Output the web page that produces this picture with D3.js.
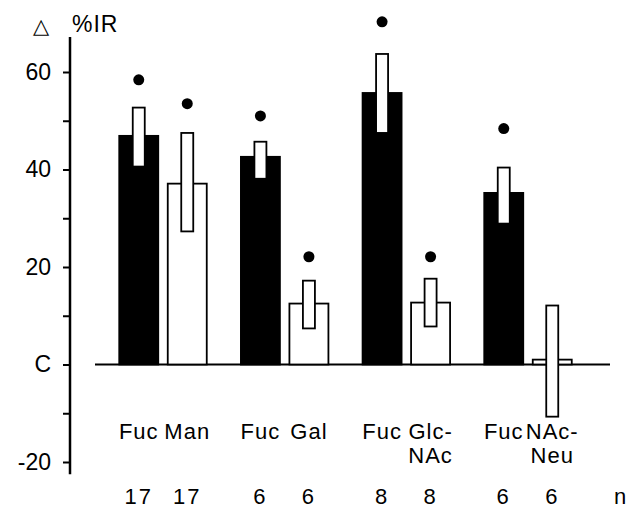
<!DOCTYPE html>
<html>
<head>
<meta charset="utf-8">
<script src="https://cdn.jsdelivr.net/npm/d3@7"></script>
<style>
    body { margin: 0; background: #fff; }
    text { font-family: "Liberation Sans", Arial, sans-serif; fill: #000; }
</style>
</head>
<body>
<svg width="634" height="508"></svg>
<script>
// data
const labels = [["Fuc"], ["Man"], ["Fuc"], ["Gal"], ["Fuc"], ["Glc-", "NAc"], ["Fuc"], ["NAc-", "Neu"]];
const groups = [0, 0, 1, 1, 2, 2, 3, 3];
const slots = [0, 1, 0, 1, 0, 1, 0, 1];
const isFuc = [true, false, true, false, true, false, true, false];
const means = [46.9, 37.1, 42.6, 12.5, 55.7, 12.7, 35.2, 1.0];
const errHigh = [52.7, 47.5, 45.7, 17.2, 63.7, 17.6, 40.4, 12.1];
const errLow = [40.6, 27.3, 38.1, 7.4, 47.5, 7.8, 28.9, -10.7];
const dots = [58.4, 53.5, 51.0, 22.1, 70.3, 22.1, 48.4, null];
const nValues = [17, 17, 6, 6, 8, 8, 6, 6];
const tickValues = [-20, -10, 0, 10, 20, 30, 40, 50, 60];
const tickLabels = { "-20": "-20", "0": "C", "20": "20", "40": "40", "60": "60" };

const data = labels.map((l, i) => ({
    label: l, group: groups[i], slot: slots[i], fuc: isFuc[i],
    mean: means[i], hi: errHigh[i], lo: errLow[i], dot: dots[i], n: nValues[i]
}));

const svg = d3.select("svg");

const y = d3.scaleLinear().domain([-20, 60]).range([462, 72]);
const xGroup = d3.scalePoint().domain([0, 1, 2, 3]).range([163, 528]);
const xInner = d3.scaleBand().domain([0, 1]).range([-43.75, 43.75]).paddingInner(0.196);
const barX = d => xGroup(d.group) + xInner(d.slot);
const barCx = d => barX(d) + xInner.bandwidth() / 2;
const errW = 12;

// y axis
const yAxis = svg.append("g")
    .attr("transform", "translate(70,0)")
    .call(d3.axisLeft(y).tickValues(tickValues).tickSize(7).tickSizeOuter(0)
        .tickFormat(v => tickLabels[v] || ""));
yAxis.select(".domain").remove();
yAxis.selectAll(".tick line").attr("stroke", "#000").attr("stroke-width", 2);
yAxis.selectAll(".tick text")
    .attr("x", -19)
    .style("font-size", "23px")
    .style("font-family", "Liberation Sans, Arial, sans-serif");
yAxis.append("line")
    .attr("x1", 0).attr("x2", 0)
    .attr("y1", y(67.2)).attr("y2", y(-22.5))
    .attr("stroke", "#000").attr("stroke-width", 2.5);

svg.append("text").attr("x", 33).attr("y", 33).style("font-size", "21px")
    .style("font-family", "DejaVu Sans").text("△");
svg.append("text").attr("x", 72).attr("y", 32).style("font-size", "23px")
    .style("letter-spacing", "1px").text("%IR");

// zero line
svg.append("line")
    .attr("x1", 95).attr("x2", 610)
    .attr("y1", y(0)).attr("y2", y(0))
    .attr("stroke", "#000").attr("stroke-width", 2);

// bars
svg.selectAll(".bar").data(data).enter().append("rect")
    .attr("class", "bar")
    .attr("x", barX)
    .attr("width", xInner.bandwidth())
    .attr("y", d => y(Math.max(0, d.mean)))
    .attr("height", d => Math.abs(y(d.mean) - y(0)))
    .attr("fill", d => d.fuc ? "#000" : "#fff")
    .attr("stroke", "#000").attr("stroke-width", 1.8);

// error bars (white boxes)
svg.selectAll(".err").data(data).enter().append("rect")
    .attr("class", "err")
    .attr("x", d => barCx(d) - errW / 2)
    .attr("width", errW)
    .attr("y", d => y(d.hi))
    .attr("height", d => y(d.lo) - y(d.hi))
    .attr("fill", "#fff")
    .attr("stroke", "#000").attr("stroke-width", 1.8);

// significance dots
svg.selectAll(".dot").data(data.filter(d => d.dot !== null)).enter().append("circle")
    .attr("class", "dot")
    .attr("cx", barCx)
    .attr("cy", d => y(d.dot))
    .attr("r", 5.5)
    .attr("fill", "#000");

// category labels
const lab = svg.selectAll(".lab").data(data).enter().append("text")
    .attr("class", "lab")
    .attr("text-anchor", "middle")
    .style("font-size", "22px")
    .style("letter-spacing", "1px");
lab.selectAll("tspan").data(d => d.label.map(t => ({ t, cx: barCx(d) }))).enter().append("tspan")
    .attr("x", d => d.cx)
    .attr("y", (d, i) => 439 + i * 24)
    .text(d => d.t);

// n values
svg.selectAll(".nval").data(data).enter().append("text")
    .attr("class", "nval")
    .attr("x", barCx)
    .attr("y", 504)
    .attr("text-anchor", "middle")
    .style("font-size", "22px")
    .style("letter-spacing", "2px")
    .text(d => d.n);
svg.append("text").attr("x", 614).attr("y", 504).style("font-size", "22px").text("n");
</script>
</body>
</html>
